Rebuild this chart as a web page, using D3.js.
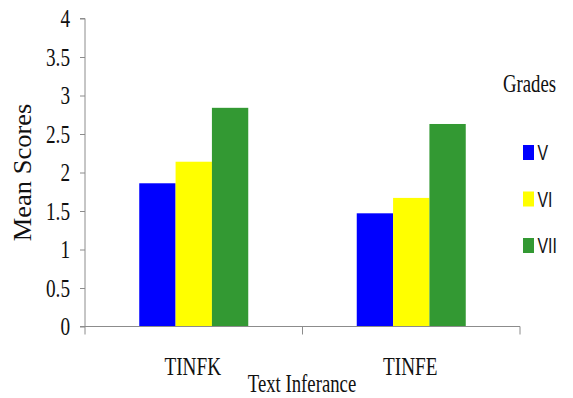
<!DOCTYPE html>
<html>
<head>
<meta charset="utf-8">
<script src="https://cdn.jsdelivr.net/npm/d3@7"></script>
<style>
  html, body { margin: 0; padding: 0; background: #fff; }
  svg { display: block; }
</style>
</head>
<body>
<svg id="chart" width="573" height="398"></svg>
<script>
// Mean scores per text-inference measure, by grade
const categories = ["TINFK", "TINFE"];
const grades = ["V", "VI", "VII"];
const scoresV = [1.86, 1.47];
const scoresVI = [2.14, 1.67];
const scoresVII = [2.84, 2.63];
const yTicks = [0, 0.5, 1, 1.5, 2, 2.5, 3, 3.5, 4];
const gradeColors = ["#0000ff", "#ffff00", "#339933"];

const series = [scoresV, scoresVI, scoresVII];

const svg = d3.select("#chart");
const plotLeft = 85, plotRight = 520, plotTop = 18.5, plotBottom = 326.5;

const x = d3.scaleBand().domain(categories).range([plotLeft, plotRight]);
const xInner = d3.scaleBand().domain(grades).range([0, 109]);
const groupOffset = (x.bandwidth() - 109) / 2;
const y = d3.scaleLinear().domain([0, 4]).range([plotBottom, plotTop]);

const serif = "'Liberation Serif', 'Times New Roman', serif";
const sans = "'Liberation Sans', Arial, sans-serif";
const axisColor = "#8c8c8c";

// condensed text helper
function label(g, tx, ty, text, opts) {
  return g.append("text")
    .attr("transform", `translate(${tx},${ty}) scale(${opts.sx || 1},1)`)
    .attr("text-anchor", opts.anchor || "middle")
    .attr("font-family", opts.font || serif)
    .attr("font-size", opts.size)
    .attr("fill", "#111")
    .text(text);
}

// bars
categories.forEach((c, ci) => {
  grades.forEach((gname, gi) => {
    const v = series[gi][ci];
    svg.append("rect")
      .attr("x", x(c) + groupOffset + xInner(gname))
      .attr("y", y(v))
      .attr("width", xInner.bandwidth())
      .attr("height", y(0) - y(v))
      .attr("fill", gradeColors[gi]);
  });
});

// y axis
const yAxis = svg.append("g").attr("transform", `translate(${plotLeft},0)`)
  .call(d3.axisLeft(y).tickValues(yTicks).tickSize(5).tickFormat(""));
yAxis.select(".domain").attr("stroke", axisColor).attr("d", `M-5,${plotTop}H0V${plotBottom}`);
yAxis.selectAll(".tick line").attr("stroke", axisColor);

yTicks.forEach(t => {
  label(svg, 70, y(t) + 8.5, d3.format("")(t), { size: 26, sx: 0.74, anchor: "end" });
});

// x axis
const xAxis = svg.append("g").attr("transform", `translate(0,${plotBottom})`)
  .call(d3.axisBottom(x).tickSize(0).tickFormat(""));
xAxis.select(".domain").attr("stroke", axisColor).attr("d", `M80,0H${plotRight}`);
[plotLeft, x(categories[1]), plotRight].forEach(px => {
  svg.append("line")
    .attr("x1", px).attr("x2", px)
    .attr("y1", plotBottom).attr("y2", plotBottom + 8)
    .attr("stroke", axisColor);
});

categories.forEach(c => {
  label(svg, x(c) + x.bandwidth() / 2 - 1, 375, c, { size: 26, sx: 0.74 });
});

// axis titles
label(svg, 302, 392, "Text Inferance", { size: 25, sx: 0.75 });
svg.append("text")
  .attr("transform", `translate(31,172.5) rotate(-90) scale(1,0.92)`)
  .attr("text-anchor", "middle")
  .attr("font-family", serif)
  .attr("font-size", 26.5)
  .attr("fill", "#111")
  .text("Mean Scores");

// legend
label(svg, 529.5, 92, "Grades", { size: 25, sx: 0.75 });
grades.forEach((gname, gi) => {
  const cy = 152 + gi * 46.5;
  svg.append("rect")
    .attr("x", 523).attr("y", cy - 7)
    .attr("width", 11).attr("height", 15)
    .attr("fill", gradeColors[gi]);
  label(svg, 537.5, cy + 8, gname, { size: 22, sx: 0.72, anchor: "start", font: sans });
});
</script>
</body>
</html>
